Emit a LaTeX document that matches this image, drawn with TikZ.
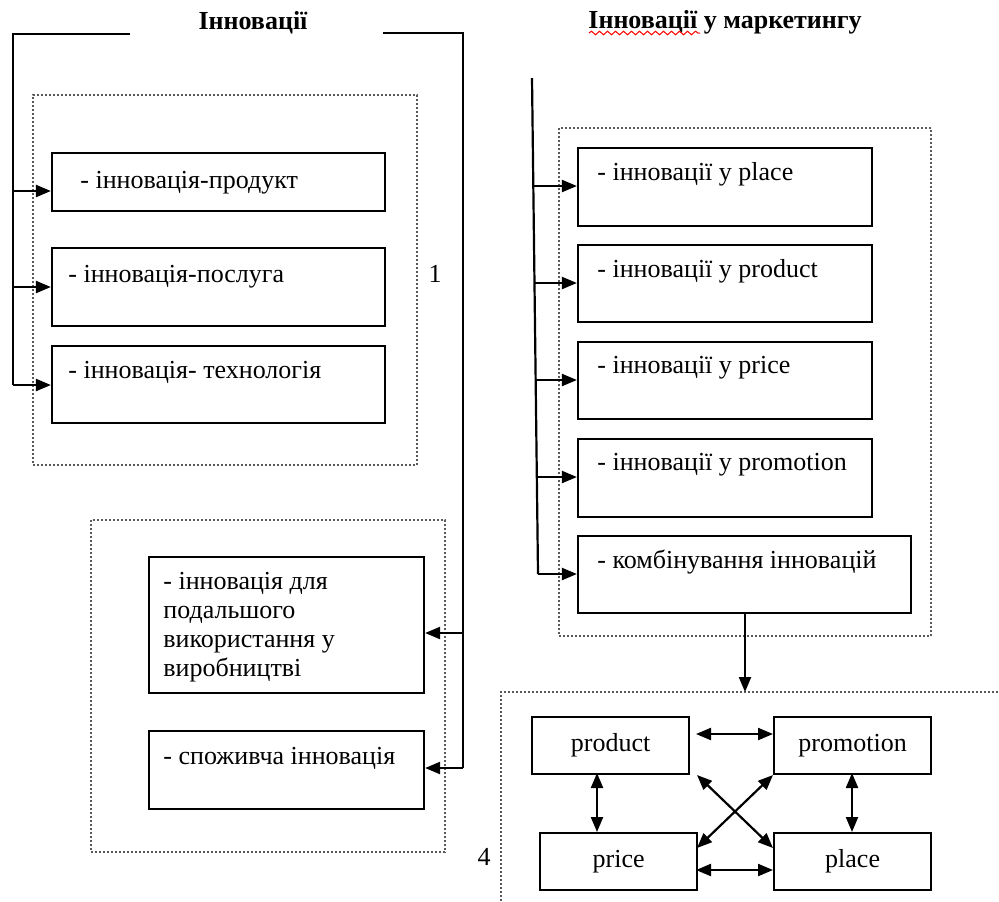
\documentclass[tikz,border=0pt]{standalone}
\usepackage{fontspec}
\setmainfont{Liberation Serif}
\usetikzlibrary{arrows.meta,fit,decorations.pathmorphing}
\begin{document}
\begin{tikzpicture}[x=0.5pt,y=-0.5pt,
 box/.style={draw, line width=1.1pt, inner sep=0pt, rectangle},
 dbox/.style={draw=black!65, densely dotted, line width=1pt, inner sep=0pt, rectangle},
 txt/.style={anchor=base west, inner sep=0pt, font=\fontsize{13}{14}\selectfont},
 ttl/.style={anchor=base west, inner sep=0pt, font=\fontsize{13}{14}\selectfont\bfseries},
 ln/.style={line width=1.1pt},
 arr/.style={line width=1.1pt, -{Triangle[length=7.5pt,width=6pt]}},
 darr/.style={line width=1.1pt, {Triangle[length=7.5pt,width=6pt]}-{Triangle[length=7.5pt,width=6pt]}},
 sbox/.style={draw, line width=1.1pt, inner sep=0pt, rectangle, minimum width=78.5pt, minimum height=28.5pt, font=\fontsize{13}{14}\selectfont}]
\useasboundingbox (0,0) rectangle (999,901);

% titles
\node[ttl, anchor=base] (T1) at (253,29) {Інновації};
\node[ttl] (T2) at (588,28) {Інновації у маркетингу};
\draw[red, line width=0.5pt, decorate, decoration={snake, amplitude=0.9pt, segment length=4pt}] (589,33) -- (700,33);

% left group
\node[dbox, fit={(33,95)(417,465)}] (D1) {};
\node[box, fit={(52,153)(385,211)}] (L1b) {};
\node[box, fit={(52,248)(385,326)}] (L2b) {};
\node[box, fit={(52,346)(385,423)}] (L3b) {};
\node[txt] (L1t) at (80,188) {- інновація-продукт};
\node[txt] (L2t) at (68,282) {- інновація-послуга};
\node[txt] (L3t) at (68,378) {- інновація- технологія};
\node[txt, anchor=base] (n1) at (435,282) {1};

\coordinate (LA) at (130,34);
\coordinate (LB) at (13,34);
\coordinate (a1) at (13,191);
\coordinate (a2) at (13,287);
\coordinate (a3) at (13,385);
\draw[ln] (LA) -- (LB) -- (a3);
\draw[arr] (a1) -- (a1 -| L1b.west);
\draw[arr] (a2) -- (a2 -| L2b.west);
\draw[arr] (a3) -- (a3 -| L3b.west);

% bottom-left group
\node[dbox, fit={(91,520)(445,852)}] (D2) {};
\node[box, fit={(149,557)(424,693)}] (Ab) {};
\node[box, fit={(149,731)(424,809)}] (Bb) {};
\node[txt] (At1) at (163,589) {- інновація для};
\node[txt] (At2) at (163,618) {подальшого};
\node[txt] (At3) at (163,647) {використання у};
\node[txt] (At4) at (163,676) {виробництві};
\node[txt] (Bt) at (163,764) {- споживча інновація};

\coordinate (RA) at (383,33);
\coordinate (RB) at (463,33);
\coordinate (r1) at (463,633);
\coordinate (r2) at (463,768);
\draw[ln] (RA) -- (RB) -- (r2);
\draw[arr] (r1) -- (r1 -| Ab.east);
\draw[arr] (r2) -- (r2 -| Bb.east);

% right group
\node[dbox, fit={(559,128)(931,636)}] (D3) {};
\node[box, fit={(578,148)(872,226)}] (M1b) {};
\node[box, fit={(578,245)(872,322)}] (M2b) {};
\node[box, fit={(578,342)(872,419)}] (M3b) {};
\node[box, fit={(578,439)(872,517)}] (M4b) {};
\node[box, fit={(578,536)(911,613)}] (M5b) {};
\node[txt] (M1t) at (597,180) {- інновації у place};
\node[txt] (M2t) at (597,277) {- інновації у product};
\node[txt] (M3t) at (597,373) {- інновації у price};
\node[txt] (M4t) at (597,470) {- інновації у promotion};
\node[txt] (M5t) at (597,568) {- комбінування інновацій};

\coordinate (VT) at (532,78);
\coordinate (m1) at (533.3,186);
\coordinate (m2) at (534.5,283);
\coordinate (m3) at (535.7,380);
\coordinate (m4) at (536.8,477);
\coordinate (m5) at (538,574);
\draw[ln] (VT) -- (m5);
\draw[arr] (m1) -- (m1 -| M1b.west);
\draw[arr] (m2) -- (m2 -| M2b.west);
\draw[arr] (m3) -- (m3 -| M3b.west);
\draw[arr] (m4) -- (m4 -| M4b.west);
\draw[arr] (m5) -- (m5 -| M5b.west);

% bottom-right group
\draw[draw=black!65, densely dotted, line width=1pt] (501,905) -- (501,692) coordinate (D4c) -- (1005,692);
\coordinate (D4top) at (745,692);
\draw[arr] (M5b.south -| D4top) -- (D4top);

\node[sbox, anchor=north west] (prod) at (531,716) {product};
\node[sbox, anchor=north west] (prom) at (773,716) {promotion};
\node[sbox, anchor=north west] (pric) at (539,832) {price};
\node[sbox, anchor=north west] (plac) at (773,832) {place};
\node[txt, anchor=base] (n4) at (484,865) {4};

\coordinate (h1) at (696,734);
\coordinate (h2) at (696,870);
\draw[darr] (h1) -- (h1 -| prom.west);
\draw[darr] (h2) -- (h2 -| plac.west);
\coordinate (v1) at (597,773);
\coordinate (v2) at (852,773);
\draw[darr] (v1) -- (v1 |- pric.north);
\draw[darr] (v2) -- (v2 |- plac.north);
\draw[darr] (697,775) -- (773,848);
\draw[darr] (773,775) -- (697,848);
\end{tikzpicture}
\end{document}
